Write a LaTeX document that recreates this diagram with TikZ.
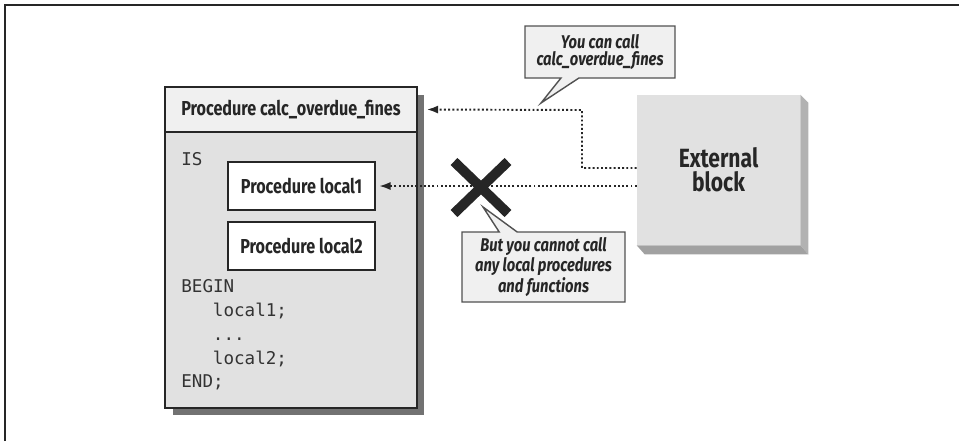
\documentclass[tikz,border=0pt]{standalone}
\usepackage{fontspec}
\usepackage{xcolor}
\usetikzlibrary{arrows.meta, positioning, calc, shapes.callouts, shadows}
\newfontfamily\condfont{Fira Sans}[FakeStretch=0.8]
\newfontfamily\codefont{DejaVu Sans Mono}
\definecolor{boxgray}{HTML}{E1E1E1}
\definecolor{headgray}{HTML}{F0F0F0}
\definecolor{inkgray}{HTML}{262626}

\begin{document}
\begin{tikzpicture}[x=0.02cm, y=-0.02cm, >={Latex[length=6.5pt,width=4.6pt]},
  every node/.style={font=\condfont\bfseries, text=inkgray},
  procbox/.style={draw=inkgray, line width=1.4pt, fill=boxgray, minimum width=5.04cm, minimum height=6.42cm,
    drop shadow={shadow xshift=0.15cm, shadow yshift=-0.15cm, fill=black!65, opacity=0.85}},
  headbox/.style={draw=inkgray, line width=1.4pt, fill=headgray, minimum width=5.04cm, minimum height=0.9cm,
    font=\condfont\bfseries\fontsize{11.5}{13}\selectfont},
  localbox/.style={draw=inkgray, line width=1.3pt, fill=white, minimum width=2.94cm, minimum height=0.96cm,
    font=\condfont\bfseries\fontsize{11.5}{13}\selectfont},
  extbox/.style={fill=boxgray, minimum width=3.26cm, minimum height=3cm, align=center,
    font=\condfont\bfseries\fontsize{15}{13.5}\selectfont},
  codetext/.style={font=\codefont\fontsize{10}{13.6}\selectfont, align=left, inner sep=0pt, text=black!80},
  tipnote/.style={rectangle callout, draw=inkgray!80, line width=0.8pt, fill=headgray, align=center, inner sep=1pt,
    callout pointer width=0.36cm, font=\condfont\bfseries\itshape\fontsize{10.5}{10.2}\selectfont},
  callarrow/.style={->, line width=1.1pt, dash pattern=on 1.1pt off 1.3pt, inkgray}
]
\useasboundingbox (0,0) rectangle (959,441);
\draw[line width=1.2pt, inkgray] (5,441) -- (5,5) -- (959,5);

\node[procbox] (proc) at (291,247.5) {};
\node[headbox] (head) at (291,109.5) {Procedure calc\_overdue\_fines};
\node[localbox] (local1) at (301.5,186) {Procedure local1};
\node[localbox] (local2) at (301.5,246) {Procedure local2};
\node[codetext, anchor=base west] (is) at (181,165) {IS};
\node[codetext, anchor=north west] (body) at (181,279) {BEGIN\\\hspace*{18pt}local1;\\\hspace*{18pt}...\\\hspace*{18pt}local2;\\END;};

\node[extbox] (ext) at (718.5,170) {External\\block};
\fill[black!30] (ext.north east) -- ($(ext.north east)+(8,8)$) -- ($(ext.south east)+(8,9)$) -- (ext.south east) -- cycle;
\fill[black!37] (ext.south west) -- ($(ext.south west)+(8,9)$) -- ($(ext.south east)+(8,9)$) -- (ext.south east) -- cycle;

\coordinate (bend) at (582,110);
\draw[callarrow] ([yshift=0.04cm]ext.west) -| (bend) -- ([xshift=0.17cm]head.east);
\draw[callarrow] (ext.west |- local1.east) -- ([xshift=0.06cm]local1.east);

\coordinate (nope) at (481,187.5);
\draw[line width=5.6pt, inkgray] ($(nope)+(-27,-26)$) -- ($(nope)+(27,26)$)
  ($(nope)+(-27,26)$) -- ($(nope)+(27,-26)$);

\node[tipnote, minimum width=3cm, minimum height=1.04cm, callout absolute pointer={(541,103)}] (youcan) at (600,52)
  {You can call\\calc\_overdue\_fines};
\node[tipnote, minimum width=3.26cm, minimum height=1.4cm, callout absolute pointer={(483,207)}] (cannot) at (543.5,267)
  {But you cannot call\\any local procedures\\and functions};
\end{tikzpicture}
\end{document}
